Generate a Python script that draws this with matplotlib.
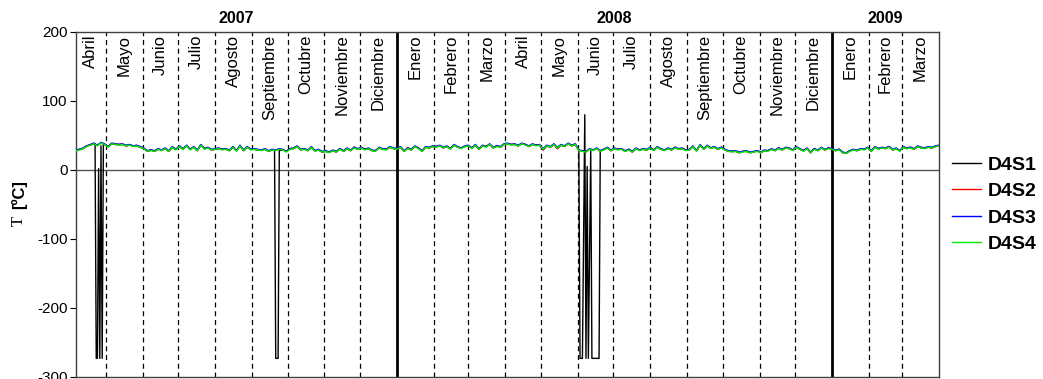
import numpy as np
import pandas as pd
import matplotlib
matplotlib.use('Agg')
import matplotlib.pyplot as plt

plt.rcParams['font.family'] = ['Liberation Sans', 'DejaVu Sans']
plt.rcParams['axes.unicode_minus'] = False

# sampling every 3 days from 2007-04-06 to 2009-04-01 (243 readings)
start, end = '2007-04-06', '2009-04-01'
dates = pd.date_range(start, end, freq='3D')

d4s4 = [28, 29, 31, 34, 36, 38, 35, 39, 37, 33,
        38, 37, 36, 37, 35, 36, 34, 35, 33, 31,
        27, 28, 27, 30, 28, 31, 27, 33, 29, 34,
        30, 35, 29, 33, 28, 36, 30, 32, 29, 30,
        31, 29, 30, 28, 33, 27, 35, 28, 33, 29,
        30, 29, 28, 30, 27, 29, 28, 30, 29, 26,
        30, 31, 34, 29, 30, 28, 33, 27, 29, 26,
        27, 25, 28, 26, 30, 27, 31, 28, 32, 30,
        32, 29, 31, 28, 27, 32, 30, 29, 33, 31,
        30, 33, 27, 31, 29, 34, 31, 27, 33, 32,
        34, 33, 35, 32, 34, 30, 36, 33, 31, 34,
        35, 31, 36, 30, 35, 33, 37, 32, 34, 33,
        37, 38, 36, 37, 35, 38, 36, 34, 37, 35,
        36, 30, 35, 33, 37, 32, 36, 34, 38, 35,
        37, 28, 27, 26, 30, 28, 31, 27, 29, 32,
        28, 31, 29, 30, 27, 29, 26, 31, 28, 30,
        29, 32, 28, 33, 30, 28, 31, 29, 32, 30,
        31, 28, 29, 34, 27, 36, 30, 35, 31, 33,
        30, 32, 29, 27, 26, 27, 25, 26, 27, 25,
        26, 27, 25, 28, 27, 30, 28, 31, 29, 32,
        31, 28, 33, 30, 27, 31, 25, 30, 28, 32,
        29, 31, 30, 28, 29, 25, 24, 27, 29, 28,
        30, 29, 32, 27, 33, 30, 32, 31, 33, 29,
        31, 27, 33, 31, 32, 30, 34, 32, 31, 33,
        32, 34, 35]

d4s3 = [29, 30, 32, 35, 37, 39, 36, 40, 38, 34,
        39, 38, 37, 38, 36, 37, 35, 36, 34, 32,
        28, 29, 28, 31, 29, 32, 28, 34, 30, 35,
        31, 36, 30, 34, 29, 37, 31, 33, 30, 31,
        32, 30, 31, 29, 34, 28, 36, 29, 34, 30,
        31, 30, 29, 31, 28, 30, 29, 31, 30, 27,
        31, 32, 35, 30, 31, 29, 34, 28, 30, 27,
        28, 26, 29, 27, 31, 28, 32, 29, 33, 31,
        33, 30, 32, 29, 28, 33, 31, 30, 34, 32,
        31, 34, 28, 32, 30, 35, 32, 28, 34, 33,
        35, 34, 36, 33, 35, 31, 37, 34, 32, 35,
        36, 32, 37, 31, 36, 34, 38, 33, 35, 34,
        38, 39, 37, 38, 36, 39, 37, 35, 38, 36,
        37, 31, 36, 34, 38, 33, 37, 35, 39, 36,
        38, 29, 28, 27, 31, 29, 32, 28, 30, 33,
        29, 32, 30, 31, 28, 30, 27, 32, 29, 31,
        30, 33, 29, 34, 31, 29, 32, 30, 33, 31,
        32, 29, 30, 35, 28, 37, 31, 36, 32, 34,
        31, 33, 30, 28, 27, 28, 26, 27, 28, 26,
        27, 28, 26, 29, 28, 31, 29, 32, 30, 33,
        32, 29, 34, 31, 28, 32, 26, 31, 29, 33,
        30, 32, 31, 29, 30, 26, 25, 28, 30, 29,
        31, 30, 33, 28, 34, 31, 33, 32, 34, 30,
        32, 28, 34, 32, 33, 31, 35, 33, 32, 34,
        33, 35, 36]

d4s2 = [28, 30, 31, 35, 36, 38, 36, 39, 37, 34,
        38, 37, 37, 37, 35, 36, 35, 35, 33, 31,
        27, 29, 27, 30, 29, 31, 27, 33, 30, 34,
        30, 35, 30, 33, 28, 36, 31, 32, 29, 30,
        31, 30, 30, 28, 33, 28, 35, 28, 33, 30,
        30, 29, 29, 30, 27, 29, 29, 30, 29, 27,
        31, 31, 34, 29, 31, 28, 33, 28, 29, 26,
        27, 26, 28, 26, 31, 27, 31, 28, 33, 30,
        32, 30, 31, 28, 28, 32, 30, 30, 33, 31,
        31, 33, 27, 32, 29, 34, 32, 27, 33, 32,
        34, 34, 35, 32, 34, 31, 36, 33, 32, 34,
        35, 32, 36, 30, 35, 34, 37, 32, 35, 33,
        37, 38, 37, 37, 35, 38, 37, 34, 37, 36,
        36, 29, 35, 33, 37, 31, 36, 34, 38, 35,
        37, 28, 28, 26, 30, 29, 31, 27, 30, 32,
        28, 31, 30, 30, 27, 30, 26, 31, 29, 30,
        29, 32, 29, 33, 30, 29, 31, 29, 33, 30,
        31, 29, 29, 34, 28, 36, 30, 35, 32, 33,
        30, 33, 29, 27, 27, 27, 25, 27, 27, 25,
        26, 28, 25, 28, 28, 30, 28, 32, 29, 32,
        31, 29, 33, 30, 28, 31, 25, 31, 28, 32,
        29, 32, 30, 28, 30, 25, 24, 28, 29, 28,
        30, 30, 32, 27, 33, 31, 32, 31, 34, 29,
        31, 28, 33, 31, 33, 30, 34, 32, 32, 33,
        32, 34, 35]

# D4S1 follows D4S2 except for sensor failures (-273 readings)
spike_dates = ['2007-04-22', '2007-04-23', '2007-04-24', '2007-04-25', '2007-04-26',
               '2007-04-27', '2007-04-28', '2007-04-29',
               '2007-09-20', '2007-09-21', '2007-09-23', '2007-09-24',
               '2008-06-02', '2008-06-03', '2008-06-05', '2008-06-07', '2008-06-08',
               '2008-06-09', '2008-06-10', '2008-06-12', '2008-06-13', '2008-06-19',
               '2008-06-20']
spike_values = [38, -273, -273, 2, -273, 35, -273, 37,
                29, -273, -273, 28,
                29, -273, -273, 80, -273,
                5, -273, 28, -273, -273,
                28]
spike_windows = [('2007-04-22', '2007-04-29'), ('2007-09-20', '2007-09-24'),
                 ('2008-06-02', '2008-06-20')]

months = ['Abril', 'Mayo', 'Junio', 'Julio', 'Agosto', 'Septiembre', 'Octubre',
          'Noviembre', 'Diciembre', 'Enero', 'Febrero', 'Marzo', 'Abril', 'Mayo',
          'Junio', 'Julio', 'Agosto', 'Septiembre', 'Octubre', 'Noviembre',
          'Diciembre', 'Enero', 'Febrero', 'Marzo']
years = ['2007', '2008', '2009']

# build D4S1
s1 = pd.Series(d4s2, index=dates)
for a, b in spike_windows:
    s1 = s1[(s1.index < pd.Timestamp(a)) | (s1.index > pd.Timestamp(b))]
s1 = pd.concat([s1, pd.Series(spike_values, index=pd.to_datetime(spike_dates))]).sort_index()

fig = plt.figure(figsize=(10.43, 3.79), dpi=100)
ax = fig.add_axes([0.0729, 0.0053, 0.8274, 0.9103])

t0, t1 = pd.Timestamp(start), pd.Timestamp(end)
bounds = pd.date_range('2007-05-01', '2009-03-01', freq='MS')

ax.axhline(0, color='#555555', lw=1, zorder=1)
for b in bounds:
    if b.month == 1:
        ax.axvline(b, color='black', lw=2, zorder=1)
    else:
        ax.axvline(b, color='black', lw=0.9, ls=(0, (4, 3)), zorder=1)

ax.plot(s1.index, s1.values, color='black', lw=1, label='D4S1', zorder=2)
ax.plot(dates, d4s2, color='red', lw=1, label='D4S2', zorder=3)
ax.plot(dates, d4s3, color='blue', lw=1, label='D4S3', zorder=4)
ax.plot(dates, d4s4, color='#00ee00', lw=1, label='D4S4', zorder=5)

ax.set_xlim(t0, t1)
ax.set_ylim(-300, 200)
ax.set_yticks([-300, -200, -100, 0, 100, 200])
ax.tick_params(axis='y', labelsize=11, length=4, direction='out', pad=2)
ax.set_xticks([])
for sp in ax.spines.values():
    sp.set_color('#404040')
    sp.set_linewidth(1)

# month labels
edges = [t0] + list(bounds) + [t1]
for i, m in enumerate(months):
    mid = edges[i] + (edges[i + 1] - edges[i]) / 2
    ax.text(mid, 196, m, rotation=90, ha='center', va='top', fontsize=12)

# year labels
ybounds = [t0, pd.Timestamp('2008-01-01'), pd.Timestamp('2009-01-01'), t1]
for i, y in enumerate(years):
    mid = ybounds[i] + (ybounds[i + 1] - ybounds[i]) / 2
    ax.text(mid, 208, y, ha='center', va='bottom', fontsize=11.5, fontweight='bold')

# y label: serif T, bold bracket part
fig.text(0.018, 1 - 195 / 379, '[ºC]', rotation=90, ha='center', va='center',
         fontsize=12, fontweight='bold')
fig.text(0.018, 1 - 221 / 379, 'T', rotation=90, ha='center', va='center',
         fontsize=12, family='Liberation Serif')

leg = fig.legend(loc='center left', bbox_to_anchor=(0.913, 0.46), frameon=False,
                 prop={'weight': 'bold', 'size': 14}, handlelength=1.5,
                 handletextpad=0.3, labelspacing=0.45, borderpad=0,
                 borderaxespad=0)

fig.savefig('out.png', dpi=100)
